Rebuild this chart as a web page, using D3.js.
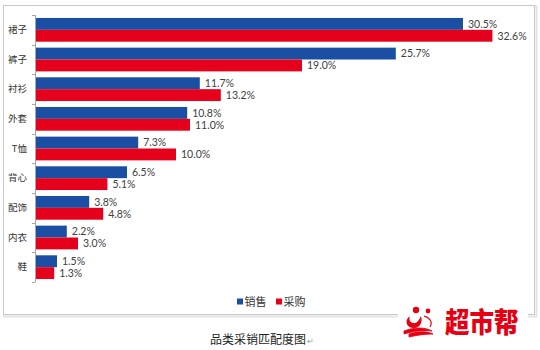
<!DOCTYPE html>
<html>
<head>
<meta charset="utf-8">
<script src="https://cdn.jsdelivr.net/npm/d3@7/dist/d3.min.js"></script>
<style>
  html, body { margin: 0; padding: 0; background: #fff; }
  svg { display: block; }
</style>
</head>
<body>
<svg id="chart" width="540" height="350"></svg>
<script>
// Category share of sales vs. purchasing (%)
const categories = ['裙子', '裤子', '衬衫', '外套', 'T恤', '背心', '配饰', '内衣', '鞋'];
const salesValues = [30.5, 25.7, 11.7, 10.8, 7.3, 6.5, 3.8, 2.2, 1.5];
const purchaseValues = [32.6, 19.0, 13.2, 11.0, 10.0, 5.1, 4.8, 3.0, 1.3];
const seriesNames = ['销售', '采购'];
const captionText = '品类采销匹配度图';
const brandText = '超市帮';

const BLUE = '#1a4fa3';
const RED = '#e5001b';
const CJK = '"Noto Sans CJK SC", "Noto Sans", sans-serif';
const NUM = 'Lato, "Liberation Sans", sans-serif';

const svg = d3.select('#chart');

// chart frame with a light drop shadow on the right/bottom
svg.append('rect').attr('x', 4.5).attr('y', 6.5).attr('width', 532).attr('height', 310)
  .attr('fill', 'none').attr('stroke', '#e4e4e4').attr('stroke-width', 2);
svg.append('rect').attr('x', 3.5).attr('y', 5.5).attr('width', 531).attr('height', 309)
  .attr('fill', '#fff').attr('stroke', '#c9c9c9').attr('stroke-width', 1);

const y = d3.scaleBand().domain(categories).range([15, 282])
  .paddingInner(0.2).paddingOuter(0.1);
const x = d3.scaleLinear().domain([0, 35]).range([36, 526]);
const half = y.bandwidth() / 2;

const rows = categories.map((c, i) => ({ c, s: salesValues[i], p: purchaseValues[i] }));

// bars: sales on top, purchasing below
const g = svg.append('g');
g.selectAll('rect.sales').data(rows).join('rect')
  .attr('class', 'sales')
  .attr('x', x(0)).attr('y', d => y(d.c))
  .attr('width', d => x(d.s) - x(0)).attr('height', half)
  .attr('fill', BLUE);
g.selectAll('rect.purchase').data(rows).join('rect')
  .attr('class', 'purchase')
  .attr('x', x(0)).attr('y', d => y(d.c) + half)
  .attr('width', d => x(d.p) - x(0)).attr('height', half)
  .attr('fill', RED);

// value labels
const fmt = v => v.toFixed(1) + '%';
g.selectAll('text.sl').data(rows).join('text')
  .attr('class', 'sl')
  .attr('x', d => x(d.s) + 5).attr('y', d => y(d.c) + half / 2)
  .attr('dy', '0.36em')
  .attr('font-family', NUM).attr('font-size', 10.5).attr('fill', '#404040')
  .text(d => fmt(d.s));
g.selectAll('text.pl').data(rows).join('text')
  .attr('class', 'pl')
  .attr('x', d => x(d.p) + 5).attr('y', d => y(d.c) + half * 1.5)
  .attr('dy', '0.36em')
  .attr('font-family', NUM).attr('font-size', 10.5).attr('fill', '#404040')
  .text(d => fmt(d.p));

// category axis: line with ticks between categories
const axisG = svg.append('g');
const step = y.step();
const axisTop = y.range()[0];
axisG.append('line').attr('x1', 35.5).attr('x2', 35.5)
  .attr('y1', axisTop).attr('y2', axisTop + step * categories.length)
  .attr('stroke', '#a6a6a6');
axisG.selectAll('line.tk').data(d3.range(categories.length + 1)).join('line')
  .attr('class', 'tk')
  .attr('x1', 32).attr('x2', 35.5)
  .attr('y1', i => Math.round(axisTop + step * i) + 0.5)
  .attr('y2', i => Math.round(axisTop + step * i) + 0.5)
  .attr('stroke', '#a6a6a6');
axisG.selectAll('text').data(categories).join('text')
  .attr('x', 27).attr('y', d => y(d) + y.bandwidth() / 2)
  .attr('dy', '0.35em').attr('text-anchor', 'end')
  .attr('font-family', CJK).attr('font-size', 9.5).attr('fill', '#333')
  .text(d => d);

// legend
const legend = svg.append('g');
const legendX = [237, 276];
[BLUE, RED].forEach((col, i) => {
  legend.append('rect').attr('x', legendX[i]).attr('y', 298.5)
    .attr('width', 6).attr('height', 6).attr('fill', col);
  legend.append('text').attr('x', legendX[i] + 7.5).attr('y', 302)
    .attr('dy', '0.35em').attr('font-family', CJK).attr('font-size', 11)
    .attr('fill', '#333').text(seriesNames[i]);
});

// caption under the chart
const cap = svg.append('text').attr('x', 210).attr('y', 340).attr('dy', '0.35em')
  .attr('font-family', CJK).attr('font-size', 12).attr('fill', '#222');
cap.append('tspan').text(captionText);
cap.append('tspan').attr('font-size', 8).attr('fill', '#999').attr('dx', 1).text('↵');

// brand mark in the lower right corner
const logo = svg.append('g');
logo.append('rect').attr('x', 398).attr('y', 303).attr('width', 130).attr('height', 36).attr('fill', '#fff');
const LR = '#e60012';
logo.append('circle').attr('cx', 416).attr('cy', 310).attr('r', 3.2).attr('fill', LR);
logo.append('circle').attr('cx', 428).attr('cy', 311).attr('r', 2.4).attr('fill', LR);
logo.append('path')
  .attr('d', 'M410,316 C404,320 406,328 414,328 C420,328 423,322 421,316 C419,320 417,324 413,323 C409,322 409,318 410,316 Z')
  .attr('fill', LR);
logo.append('path')
  .attr('d', 'M424,316 C430,317 433,322 430,327 C433,322 430,319 424,316 Z M404,331 C414,327 425,327 432,331 C424,330 413,331 404,334 Z M409,334 C418,331 427,331 433,334 C426,334 417,335 409,337 Z')
  .attr('fill', LR).attr('stroke', LR).attr('stroke-width', 0.8);
logo.append('text')
  .attr('transform', 'translate(445,333) scale(0.98,1.12)')
  .attr('font-family', CJK).attr('font-weight', 900).attr('font-size', 25)
  .attr('fill', LR).text(brandText);
</script>
</body>
</html>
